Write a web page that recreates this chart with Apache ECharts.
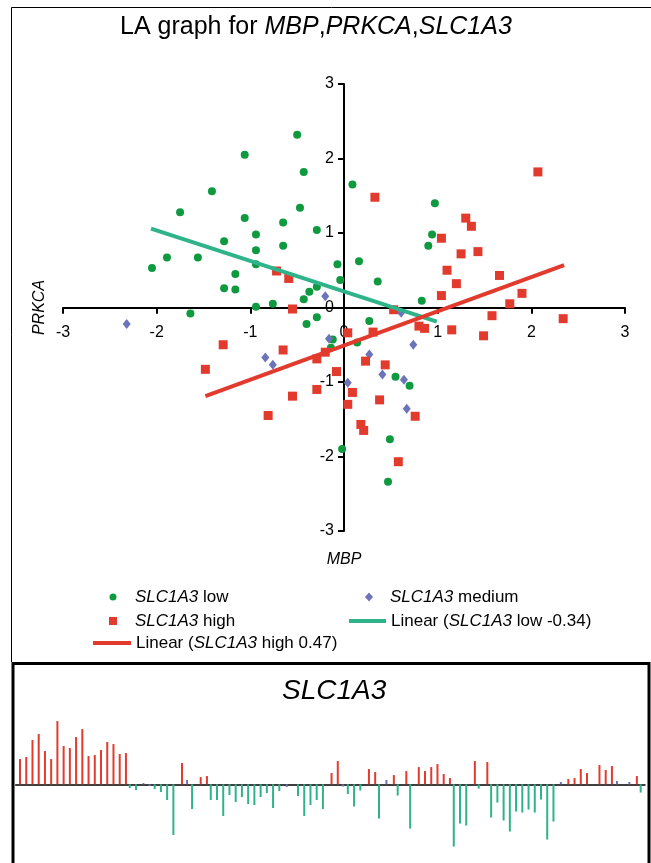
<!DOCTYPE html>
<html>
<head>
<meta charset="utf-8">
<script src="https://cdn.jsdelivr.net/npm/echarts@6/dist/echarts.min.js"></script>
<style>
  html, body { margin: 0; padding: 0; background: #fff; }
  #main { width: 651px; height: 863px; }
</style>
</head>
<body>
<div id="main"></div>
<script>
// scatter groups [MBP, PRKCA]
var lowPts = [
  [-2.05, 0.53], [-1.89, 0.67], [-1.75, 1.28], [-1.56, 0.67], [-1.41, 1.56], [-1.64, -0.08],
  [-1.28, 0.89], [-1.28, 0.26], [-1.16, 0.45], [-1.16, 0.24], [-1.06, 2.05], [-1.06, 1.20],
  [-0.94, 0.98], [-0.94, 0.77], [-0.94, 0.58], [-0.94, 0.01], [-0.76, 0.05], [-0.65, 1.14],
  [-0.65, 0.83], [-0.50, 2.32], [-0.43, 1.82], [-0.47, 1.34], [-0.29, 1.04], [-0.37, 0.21],
  [-0.43, 0.11], [-0.29, 0.28], [-0.07, 0.58], [-0.04, 0.37], [-0.29, -0.13], [-0.40, -0.22],
  [0.09, 1.65], [0.16, 0.62], [0.36, 0.35], [0.83, 0.09], [0.90, 0.83], [0.94, 0.98],
  [0.97, 1.40], [-0.12, -0.43], [-0.14, -0.54], [0.14, -0.47], [0.27, -0.18], [0.55, -0.93],
  [0.70, -1.05], [0.49, -1.77], [0.47, -2.34], [-0.02, -1.90]
];
var medPts = [
  [-2.32, -0.22], [-0.20, 0.15], [-0.84, -0.67], [-0.76, -0.77], [-0.16, -0.42], [0.04, -1.01],
  [0.27, -0.63], [0.41, -0.90], [0.64, -0.97], [0.74, -0.50], [0.67, -1.36], [0.61, -0.07]
];
var highPts = [
  [0.33, 1.48], [2.07, 1.82], [1.04, 0.93], [1.30, 1.20], [1.36, 1.09], [1.25, 0.72],
  [1.43, 0.75], [1.10, 0.50], [1.20, 0.32], [1.66, 0.43], [1.04, 0.16], [1.90, 0.19],
  [1.77, 0.05], [0.53, -0.03], [1.58, -0.11], [2.34, -0.15], [1.49, -0.38], [1.15, -0.30],
  [0.80, -0.25], [0.86, -0.28], [0.31, -0.33], [0.04, -0.34], [0.23, -0.72], [0.44, -0.77],
  [0.09, -1.14], [0.04, -1.30], [0.38, -1.24], [0.76, -1.46], [0.18, -1.57], [0.21, -1.65],
  [0.58, -2.07], [-0.29, -0.69], [-0.20, -0.60], [-0.08, -0.86], [-0.29, -1.10], [-0.55, -0.02],
  [-1.29, -0.50], [-1.48, -0.83], [-0.65, -0.57], [-0.55, -1.19], [-0.81, -1.45], [-0.72, 0.49],
  [-0.59, 0.39]
];
// linear trend lines (end points)
var lowFit = [[-2.06, 1.06], [0.99, -0.19]];
var highFit = [[-1.48, -1.19], [2.35, 0.57]];
var axisTicks = [-3, 3, 1];

// SLC1A3 per sample, with group H/M/L
var barValues = [
  1.01, 1.09, 1.77, 2.01, 1.33, 1.01, 2.53, 1.53, 1.45, 1.89, 2.21, 1.13, 1.17, 1.37, 1.69, 1.61, 1.21, 1.25,
  -0.15, -0.23, 0.05, -0.07, -0.19, -0.31, -0.63, -2.03, 0.85, 0.17, -0.99, 0.29, 0.33,
  -0.63, -0.63, -1.27, -0.43, -0.71, -0.51, -0.79, -0.83, -0.51, -0.35, -0.95, -0.27, -0.11, 0,
  -0.47, -1.27, -0.83, -0.63, -0.99, 0.45, 0.93, -0.09, -0.39, -0.89, -0.25, 0.61, 0.49, -1.37,
  0.17, 0.37, -0.45, 0.53, -1.77, 0.69, 0.53, 0.69, 0.81, 0.41, 0.25, -2.49, -1.57, -1.65,
  0.93, -0.17, 0.89, -1.33, -0.73, -1.45, -1.89, -1.09, -1.13, -1.01, -1.13, -0.61, -2.21, -1.49,
  0.09, 0.21, 0.25, 0.61, 0.45, 0, 0.77, 0.57, 0.73, 0.13, 0, 0.09, 0.33, -0.33
];
var barGroup = (
  'HHHHHHHHHHHHHHHHHH' + 'LLMMLLLLHMLHH' + 'LLLLLLLLLLLLMM' +
  'LLLLLHHMLLLHHLMHLHL' + 'HHHHHHLLLHLH' + 'LLLLLLLLLLL' + 'MHHHHMHHHMMMHL'
).split('');

var C_GREEN = '#0f9a40', C_RED = '#e23b2e', C_BLUE = '#6b74b8', C_TEAL = '#2fb38a';
var FONT = "'Liberation Sans', Arial, sans-serif";
var SQUARE = 'path://M0,0L8,0L8,8L0,8Z';
var DIAMOND = 'path://M4,0L8,4.5L4,9L0,4.5Z';

function groupData(g) {
  return barValues.map(function (v, i) { return barGroup[i] === g ? v : '-'; });
}
var sampleIds = barValues.map(function (v, i) { return 'S' + (i + 1); });

var myChart = echarts.init(document.getElementById('main'));

function legendFmt(name) {
  return name.replace('SLC1A3', '{i|SLC1A3}');
}
function legendBox(name, icon, left, top, w, h) {
  return {
    data: [{ name: name, icon: icon }],
    left: left, top: top, padding: 0,
    itemWidth: w, itemHeight: h,
    symbolKeepAspect: true,
    selectedMode: false,
    formatter: legendFmt,
    textStyle: {
      fontFamily: FONT, fontSize: 17, color: '#000', lineHeight: 18,
      rich: { i: { fontFamily: FONT, fontSize: 17, fontStyle: 'italic', color: '#000' } }
    }
  };
}

var axisText = { fontFamily: FONT, fontSize: 16, color: '#000' };

option = {
  animation: false,
  backgroundColor: '#fff',
  title: [
    {
      text: '{n|LA graph for }{i|MBP}{n|,}{i|PRKCA}{n|,}{i|SLC1A3}',
      left: 120, top: 15, padding: 0,
      textStyle: {
        fontWeight: 'normal',
        rich: {
          n: { fontFamily: FONT, fontSize: 25, color: '#000', fontWeight: 'normal' },
          i: { fontFamily: FONT, fontSize: 25, color: '#000', fontWeight: 'normal', fontStyle: 'italic' }
        }
      }
    },
    {
      text: 'SLC1A3',
      left: 282, top: 677, padding: 0,
      textStyle: { fontFamily: FONT, fontSize: 28, fontStyle: 'italic', fontWeight: 'normal', color: '#000' }
    }
  ],
  legend: [
    legendBox('SLC1A3 low', 'circle', 109.5, 588, 34, 7),
    legendBox('SLC1A3 high', SQUARE, 109, 612, 34, 8),
    legendBox('Linear (SLC1A3 high 0.47)', 'rect', 93, 634, 38, 4),
    legendBox('SLC1A3 medium', DIAMOND, 365, 588, 32, 9),
    legendBox('Linear (SLC1A3 low -0.34)', 'rect', 349, 612, 37, 4)
  ],
  graphic: [
    {
      type: 'polyline', silent: true,
      shape: { points: [[651, 7.5], [11.5, 7.5], [11.5, 662]] },
      style: { stroke: '#000', lineWidth: 1, fill: null }
    },
    {
      type: 'rect', silent: true,
      shape: { x: 13, y: 663.5, width: 636, height: 230 },
      style: { stroke: '#000', lineWidth: 3, fill: null }
    }
  ],
  grid: [
    { left: 63, right: 26, top: 84, bottom: 332, containLabel: false, outerBoundsMode: 'none' },
    { left: 15.7, right: 6, top: 699.3, bottom: 3.7, containLabel: false, outerBoundsMode: 'none' }
  ],
  xAxis: [
    {
      gridIndex: 0, type: 'value', position: 'bottom', offset: -223.3,
      min: axisTicks[0], max: axisTicks[1], interval: axisTicks[2],
      name: 'MBP', nameLocation: 'middle', nameGap: 244,
      nameTextStyle: { fontFamily: FONT, fontSize: 16, fontStyle: 'italic', color: '#000' },
      axisLine: { onZero: false, lineStyle: { color: '#000', width: 2 } },
      axisTick: { length: 6, lineStyle: { color: '#000', width: 2 } },
      axisLabel: Object.assign({ margin: 17 }, axisText),
      splitLine: { show: false }
    },
    {
      gridIndex: 1, type: 'category', data: sampleIds,
      axisLine: { onZero: true, lineStyle: { color: '#000', width: 1.5 } },
      axisTick: { show: false },
      axisLabel: { show: false },
      splitLine: { show: false }
    }
  ],
  yAxis: [
    {
      gridIndex: 0, type: 'value', position: 'left', offset: -281,
      min: axisTicks[0], max: axisTicks[1], interval: axisTicks[2],
      name: 'PRKCA', nameLocation: 'middle', nameGap: 296,
      nameTextStyle: { fontFamily: FONT, fontSize: 16, fontStyle: 'italic', color: '#000' },
      axisLine: { onZero: false, lineStyle: { color: '#000', width: 2 } },
      axisTick: { length: 6, lineStyle: { color: '#000', width: 2 } },
      axisLabel: Object.assign({ margin: 10 }, axisText),
      splitLine: { show: false }
    },
    {
      gridIndex: 1, type: 'value', min: -3, max: 3.4, show: false,
      splitLine: { show: false }
    }
  ],
  series: [
    {
      name: 'SLC1A3 low', type: 'scatter', xAxisIndex: 0, yAxisIndex: 0,
      symbol: 'circle', symbolSize: 8, data: lowPts,
      itemStyle: { color: C_GREEN, opacity: 1 }
    },
    {
      name: 'SLC1A3 medium', type: 'scatter', xAxisIndex: 0, yAxisIndex: 0,
      symbol: 'diamond', symbolSize: [8, 10], data: medPts,
      itemStyle: { color: C_BLUE, opacity: 1 }
    },
    {
      name: 'SLC1A3 high', type: 'scatter', xAxisIndex: 0, yAxisIndex: 0,
      symbol: 'rect', symbolSize: 9, data: highPts,
      itemStyle: { color: C_RED, opacity: 1 }
    },
    {
      name: 'Linear (SLC1A3 low -0.34)', type: 'line', xAxisIndex: 0, yAxisIndex: 0,
      data: lowFit, symbol: 'none', z: 3,
      itemStyle: { color: C_TEAL }, lineStyle: { color: C_TEAL, width: 4 }
    },
    {
      name: 'Linear (SLC1A3 high 0.47)', type: 'line', xAxisIndex: 0, yAxisIndex: 0,
      data: highFit, symbol: 'none', z: 3,
      itemStyle: { color: C_RED }, lineStyle: { color: C_RED, width: 4 }
    },
    //SLC1A3 bars
    {
      name: 'low', type: 'bar', xAxisIndex: 1, yAxisIndex: 1,
      barWidth: 2, barGap: '-40%', data: groupData('L'),
      itemStyle: { color: C_TEAL }
    },
    {
      name: 'medium', type: 'bar', xAxisIndex: 1, yAxisIndex: 1,
      barWidth: 2, barGap: '-40%', data: groupData('M'),
      itemStyle: { color: C_BLUE }
    },
    {
      name: 'high', type: 'bar', xAxisIndex: 1, yAxisIndex: 1,
      barWidth: 2, barGap: '-40%', data: groupData('H'),
      itemStyle: { color: C_RED }
    }
  ]
};
myChart.setOption(option);
</script>
</body>
</html>
